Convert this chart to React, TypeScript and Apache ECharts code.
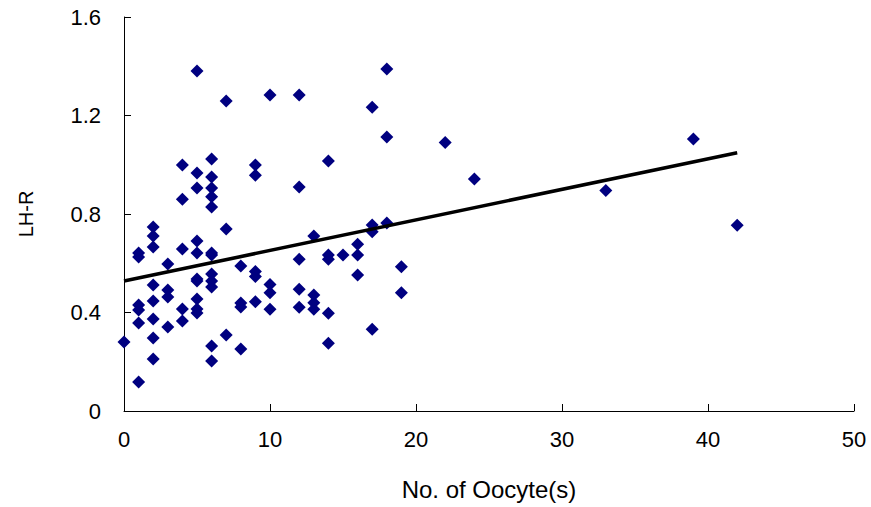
import React, { useEffect, useRef } from "react";
import * as echarts from "echarts";

const oocytes: number[] = [
  0,
  1, 1, 1, 1, 1, 1,
  2, 2, 2, 2, 2, 2, 2, 2,
  3, 3, 3, 3,
  4, 4, 4, 4, 4,
  5, 5, 5, 5, 5, 5, 5, 5, 5, 5,
  6, 6, 6, 6, 6, 6, 6, 6, 6, 6, 6, 6,
  7, 7, 7,
  8, 8, 8, 8,
  9, 9, 9, 9, 9,
  10, 10, 10, 10,
  12, 12, 12, 12, 12,
  13, 13, 13, 13,
  14, 14, 14, 14, 14,
  15,
  16, 16, 16,
  17, 17, 17, 17,
  18, 18, 18,
  19, 19,
  22, 24, 33, 39, 42,
];

const lhr: number[] = [
  0.28,
  0.642, 0.625, 0.43, 0.41, 0.357, 0.118,
  0.747, 0.711, 0.666, 0.512, 0.447, 0.374, 0.296, 0.211,
  0.597, 0.491, 0.463, 0.341,
  0.999, 0.86, 0.658, 0.414, 0.365,
  1.381, 0.967, 0.906, 0.69, 0.642, 0.536, 0.528, 0.455, 0.414, 0.398,
  1.023, 0.95, 0.906, 0.87, 0.828, 0.642, 0.634, 0.556, 0.528, 0.504, 0.264, 0.203,
  1.259, 0.739, 0.309,
  0.589, 0.439, 0.422, 0.252,
  0.999, 0.957, 0.566, 0.546, 0.444,
  1.283, 0.514, 0.48, 0.413,
  1.283, 0.91, 0.616, 0.494, 0.421,
  0.711, 0.471, 0.44, 0.413,
  1.015, 0.634, 0.616, 0.397, 0.275,
  0.634,
  0.677, 0.634, 0.552,
  1.234, 0.755, 0.728, 0.332,
  1.389, 1.113, 0.763,
  0.586, 0.48,
  1.09, 0.942, 0.895, 1.105, 0.754,
];

const trendX: number[] = [0, 42];
const trendY: number[] = [0.528, 1.049];

const xTicks = { min: 0, max: 50, interval: 10 };
const yTicks = { min: 0, max: 1.6, interval: 0.4 };

const FONT = "Liberation Sans, Arial, sans-serif";

export default function App() {
  const ref = useRef<HTMLDivElement>(null);
  useEffect(() => {
    if (!ref.current) return;
    const chart = echarts.init(ref.current, undefined, { renderer: "svg" });
    const points = oocytes.map((x, i) => [x, lhr[i]]);
    const line = trendX.map((x, i) => [x, trendY[i]]);
    chart.setOption({
      animation: false,
      backgroundColor: "#ffffff",
      grid: { left: 124, top: 17, width: 730, height: 394 },
      xAxis: {
        type: "value",
        min: xTicks.min,
        max: xTicks.max,
        interval: xTicks.interval,
        name: "No. of Oocyte(s)",
        nameLocation: "middle",
        nameGap: 66,
        nameTextStyle: { color: "#000", fontSize: 24, fontFamily: FONT },
        axisLine: { show: true, onZero: false, lineStyle: { color: "#000", width: 1 } },
        axisTick: { show: true, inside: true, length: 7, lineStyle: { color: "#000" } },
        axisLabel: { color: "#000", fontSize: 22, fontFamily: FONT, margin: 17 },
        splitLine: { show: false },
      },
      yAxis: {
        type: "value",
        min: yTicks.min,
        max: yTicks.max,
        interval: yTicks.interval,
        name: "LH-R",
        nameLocation: "middle",
        nameRotate: 90,
        nameGap: 88,
        nameTextStyle: { color: "#000", fontSize: 20, fontFamily: FONT },
        axisLine: { show: true, onZero: false, lineStyle: { color: "#000", width: 1 } },
        axisTick: { show: true, inside: true, length: 7, lineStyle: { color: "#000" } },
        axisLabel: { color: "#000", fontSize: 22, fontFamily: FONT, margin: 23 },
        splitLine: { show: false },
      },
      series: [
        {
          type: "scatter",
          data: points,
          symbol: "diamond",
          symbolSize: 13,
          itemStyle: { color: "#000080", opacity: 1 },
          z: 2,
        },
        {
          type: "line",
          data: line,
          showSymbol: false,
          symbol: "none",
          lineStyle: { color: "#000", width: 3.5 },
          z: 3,
        },
      ],
    });
    return () => chart.dispose();
  }, []);
  return (
    <div
      ref={ref}
      style={{ position: "absolute", left: 0, top: 0, width: 871, height: 507 }}
    />
  );
}
